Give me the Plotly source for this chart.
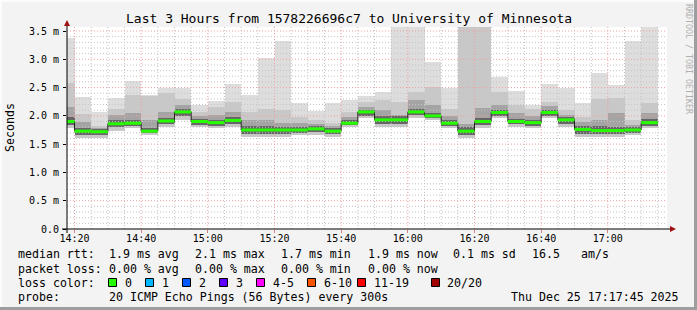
import plotly.graph_objects as go
from datetime import datetime, timedelta

# ---------------- data (values in ms) ----------------
day = "2025-12-25"
interval_end = ["14:20", "14:25", "14:30", "14:35", "14:40", "14:45", "14:50", "14:55",
                "15:00", "15:05", "15:10", "15:15", "15:20", "15:25", "15:30", "15:35",
                "15:40", "15:45", "15:50", "15:55", "16:00", "16:05", "16:10", "16:15",
                "16:20", "16:25", "16:30", "16:35", "16:40", "16:45", "16:50", "16:55",
                "17:00", "17:05", "17:10", "17:15"]

median_rtt = [1.90, 1.73, 1.72, 1.86, 1.87, 1.73, 1.91, 2.07, 1.90, 1.88, 1.92, 1.75,
              1.75, 1.75, 1.75, 1.77, 1.73, 1.87, 2.07, 1.93, 1.93, 2.07, 2.00, 1.87,
              1.73, 1.90, 2.06, 1.90, 1.88, 2.06, 1.93, 1.76, 1.74, 1.74, 1.75, 1.88]
ping_max = [3.38, 2.34, 2.07, 2.31, 2.61, 2.37, 2.50, 2.50, 2.19, 2.26, 2.56, 2.37,
            3.03, 3.32, 2.23, 2.09, 2.23, 2.28, 2.35, 2.43, 3.90, 3.90, 2.96, 2.49,
            3.90, 3.90, 2.69, 2.44, 2.19, 2.56, 2.49, 2.23, 2.76, 2.54, 3.32, 3.90]
ping_hi2 = [2.58, 2.04, 1.82, 2.13, 2.37, 2.35, 2.41, 2.29, 2.07, 2.15, 2.25, 2.07,
            2.13, 2.10, 1.98, 1.93, 1.87, 2.07, 2.25, 2.28, 2.25, 2.43, 2.51, 2.13,
            3.90, 3.90, 2.43, 2.19, 2.13, 2.25, 2.11, 1.98, 2.30, 2.32, 1.92, 2.23]
ping_hi3 = [2.16, 1.90, 1.78, 2.02, 2.05, 1.93, 2.07, 2.19, 2.00, 2.01, 2.07, 1.93,
            1.93, 1.87, 1.88, 1.86, 1.82, 1.98, 2.15, 2.10, 2.02, 2.28, 2.20, 2.00,
            1.85, 2.14, 2.20, 2.05, 2.00, 2.18, 2.02, 1.90, 1.93, 2.05, 1.84, 2.05]
ping_core_hi = [1.98, 1.79, 1.76, 1.92, 1.93, 1.79, 1.97, 2.12, 1.95, 1.93, 1.98, 1.82,
                1.82, 1.81, 1.81, 1.82, 1.78, 1.93, 2.11, 1.99, 1.99, 2.13, 2.05, 1.92,
                1.80, 1.96, 2.11, 1.95, 1.93, 2.11, 1.98, 1.82, 1.82, 1.80, 1.81, 1.94]
ping_lo = [1.84, 1.67, 1.66, 1.80, 1.82, 1.69, 1.86, 1.99, 1.84, 1.82, 1.86, 1.68,
           1.68, 1.68, 1.70, 1.71, 1.68, 1.83, 2.00, 1.86, 1.86, 2.01, 1.96, 1.82,
           1.66, 1.83, 2.00, 1.85, 1.82, 2.00, 1.85, 1.68, 1.68, 1.68, 1.70, 1.82]
ping_min = [1.78, 1.60, 1.60, 1.74, 1.78, 1.66, 1.81, 1.93, 1.80, 1.78, 1.81, 1.62,
            1.62, 1.62, 1.66, 1.66, 1.63, 1.80, 1.96, 1.80, 1.80, 1.97, 1.93, 1.78,
            1.61, 1.78, 1.96, 1.81, 1.78, 1.96, 1.80, 1.63, 1.63, 1.63, 1.66, 1.78]

y_tick_vals = [0.0, 0.5, 1.0, 1.5, 2.0, 2.5, 3.0, 3.5]
y_tick_text = ["0.0", "0.5 m", "1.0 m", "1.5 m", "2.0 m", "2.5 m", "3.0 m", "3.5 m"]

loss_labels = ["0", "1", "2", "3", "4-5", "6-10", "11-19", "20/20"]
loss_colors = ["#26ff00", "#00b8ff", "#0059ff", "#5e00ff", "#ff00ff", "#ff5500", "#ff0000", "#a10000"]

stats_rtt = ["1.9 ms avg", "2.1 ms max", "1.7 ms min", "1.9 ms now", "0.1 ms sd", "16.5", "am/s"]
stats_loss = ["0.00 % avg", "0.00 % max", "0.00 % min", "0.00 % now"]

# ---------------- geometry ----------------
W, H = 697, 310
L, R, T, B = 67, 30, 27, 81
PW, PH = W - L - R, H - T - B
FONT = "DejaVu Sans Mono"

def px(x):
    return (x - L) / PW

def py(y):
    return (H - B - y) / PH

t_end = [datetime.strptime(f"{day} {s}", "%Y-%m-%d %H:%M") for s in interval_end]
step = timedelta(seconds=300)
t_start = [t - step for t in t_end]
t_center = [t - step / 2 for t in t_end]
x_lo = datetime.strptime(f"{day} 14:17:45", "%Y-%m-%d %H:%M:%S")
x_hi = datetime.strptime(f"{day} 17:17:45", "%Y-%m-%d %H:%M:%S")
y_top = 3.571

fig = go.Figure()

def band(lo, hi, color):
    fig.add_trace(go.Bar(
        x=t_center, y=[h - l for h, l in zip(hi, lo)], base=lo, width=300000,
        marker=dict(color=color, line=dict(width=0)), hoverinfo="skip", showlegend=False))

band(ping_min, ping_max, "#dddddd")
band(ping_min, ping_hi2, "#c8c8c8")
band(ping_lo, ping_hi3, "#a4a4a4")
band(ping_lo, ping_core_hi, "#666666")

# grid drawn over the smoke but under the median line
minor_c = "#c4c4c4"
major_c = "#f0a0a0"
gx_min, gy_min, gx_maj, gy_maj = [], [], [], []
t = datetime.strptime(f"{day} 14:20", "%Y-%m-%d %H:%M")
while t <= x_hi:
    if t.minute % 20 == 0:
        gx_maj += [t, t, None]; gy_maj += [0, y_top, None]
    else:
        gx_min += [t, t, None]; gy_min += [0, y_top, None]
    t += step
for i in range(1, 36):
    v = i / 10
    if i % 5 == 0:
        gx_maj += [x_lo, x_hi, None]; gy_maj += [v, v, None]
    else:
        gx_min += [x_lo, x_hi, None]; gy_min += [v, v, None]
fig.add_trace(go.Scatter(x=gx_min, y=gy_min, mode="lines", hoverinfo="skip", showlegend=False,
                         line=dict(color=minor_c, width=1, dash="1px,2px")))
fig.add_trace(go.Scatter(x=gx_maj, y=gy_maj, mode="lines", hoverinfo="skip", showlegend=False,
                         line=dict(color=major_c, width=1, dash="1px,2px")))

# black step median line
fig.add_trace(go.Scatter(
    x=t_start + [t_end[-1]], y=median_rtt + [median_rtt[-1]], mode="lines",
    line=dict(shape="hv", color="#202020", width=1), hoverinfo="skip", showlegend=False))
# green loss-colored median segments
gx, gy = [], []
for s, e, m in zip(t_start, t_end, median_rtt):
    gx += [s, e, None]
    gy += [m, m, None]
fig.add_trace(go.Scatter(x=gx, y=gy, mode="lines", line=dict(color=loss_colors[0], width=3),
                         hoverinfo="skip", showlegend=False))

shapes = []
# axis lines and arrows
shapes.append(dict(type="line", xref="paper", yref="paper", x0=px(62), x1=px(670), y0=py(229), y1=py(229),
                   line=dict(color="black", width=1), layer="above"))
shapes.append(dict(type="line", xref="paper", yref="paper", x0=px(67), x1=px(67), y0=py(233), y1=py(24),
                   line=dict(color="black", width=1), layer="above"))
shapes.append(dict(type="path", xref="paper", yref="paper",
                   path=f"M {px(670)},{py(226)} L {px(676)},{py(229)} L {px(670)},{py(232)} Z",
                   fillcolor="#a01010", line=dict(width=0), layer="above"))
shapes.append(dict(type="path", xref="paper", yref="paper",
                   path=f"M {px(64)},{py(26)} L {px(67)},{py(20)} L {px(70)},{py(26)} Z",
                   fillcolor="#a01010", line=dict(width=0), layer="above"))

# 3D frame
shapes.append(dict(type="rect", xref="paper", yref="paper", x0=px(0), x1=px(2), y0=py(H), y1=py(0),
                   fillcolor="#fcfcfc", line=dict(width=0)))
shapes.append(dict(type="rect", xref="paper", yref="paper", x0=px(0), x1=px(W), y0=py(2), y1=py(0),
                   fillcolor="#fcfcfc", line=dict(width=0)))
shapes.append(dict(type="rect", xref="paper", yref="paper", x0=px(W - 3), x1=px(W), y0=py(H), y1=py(0),
                   fillcolor="#9e9e9e", line=dict(width=0)))
shapes.append(dict(type="rect", xref="paper", yref="paper", x0=px(0), x1=px(W), y0=py(H), y1=py(H - 3),
                   fillcolor="#9e9e9e", line=dict(width=0)))

annotations = []

def text(x, y, s, size=11.6, anchor="left", color="black", angle=0):
    annotations.append(dict(xref="paper", yref="paper", x=px(x), y=py(y), text=s, showarrow=False,
                            xanchor=anchor, yanchor="middle", textangle=angle,
                            font=dict(family=FONT, size=size, color=color)))

text(348.5, 19, "Last 3 Hours from 1578226696c7 to University of Minnesota", size=13, anchor="center")
text(10, 128, "Seconds", size=11.6, anchor="center", angle=-90)
text(689, 59, "RRDTOOL / TOBI OETIKER", size=8.3, anchor="center", color="#b0b0b0", angle=90)

text(16, 254.5, "median rtt:")
for xpos, s in zip([107, 193, 279, 365.5, 451, 530, 579], stats_rtt):
    text(xpos, 254.5, s)
text(16, 268.5, "packet loss:")
for xpos, s in zip([107, 193, 279, 365.5], stats_loss):
    text(xpos, 268.5, s)
text(16, 282.5, "loss color:")
box_x = [108, 145, 182, 219, 256, 307, 357, 431]
lab_x = [123, 160, 197, 234, 270.5, 321.5, 372, 445]
for bx, lx, lab, col in zip(box_x, lab_x, loss_labels, loss_colors):
    shapes.append(dict(type="rect", xref="paper", yref="paper", x0=px(bx + 0.5), x1=px(bx + 8.5),
                       y0=py(286.5), y1=py(278.5), fillcolor=col, line=dict(color="black", width=1)))
    text(lx, 282.5, lab)
text(16, 296.5, "probe:")
text(107, 296.5, "20 ICMP Echo Pings (56 Bytes) every 300s")
text(681, 296.5, "Thu Dec 25 17:17:45 2025", anchor="right")

fig.update_layout(
    width=W, height=H, margin=dict(l=L, r=R, t=T, b=B, pad=0),
    paper_bgcolor="#f3f3f3", plot_bgcolor="white",
    barmode="overlay", bargap=0, showlegend=False,
    font=dict(family=FONT, size=10, color="black"),
    shapes=shapes, annotations=annotations,
    xaxis=dict(type="date", range=[x_lo, x_hi], showgrid=False, zeroline=False,
               tickformat="%H:%M", dtick=20 * 60 * 1000, tick0=f"{day} 14:20",
               ticks="outside", ticklen=3, tickcolor="#e08080", showline=False,
               ticklabelstandoff=-3,
               tickfont=dict(family=FONT, size=10, color="black")),
    yaxis=dict(range=[0, y_top], showgrid=False, zeroline=False,
               tickvals=y_tick_vals, ticktext=y_tick_text,
               ticks="outside", ticklen=3, tickcolor="black", showline=False,
               ticklabelstandoff=2,
               tickfont=dict(family=FONT, size=10, color="black")),
)

fig.write_html("out.html")
